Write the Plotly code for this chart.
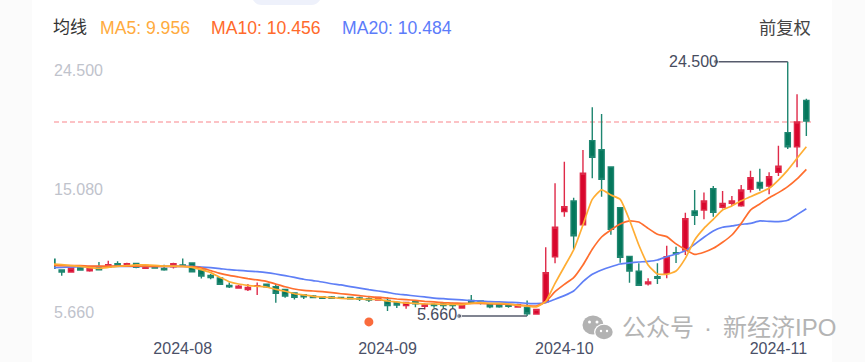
import plotly.graph_objects as go

W, H = 865, 362
L, R, T, B = 54, 811, 40, 337

opens = [9.86,9.07,8.92,9.26,9.00,9.26,9.26,9.54,9.41,9.56,9.19,9.36,9.19,9.31,9.44,9.59,9.07,8.67,8.47,7.93,
 7.73,7.61,7.86,8.01,7.83,7.63,7.36,7.24,7.14,7.09,7.07,7.04,7.04,6.99,6.94,6.85,6.82,6.67,6.43,6.75,
 6.38,6.52,6.55,6.55,6.25,6.82,6.77,6.50,6.50,6.50,6.33,6.30,5.81,6.72,10.05,13.39,14.18,12.42,18.65,17.98,
 16.70,13.68,10.08,8.97,8.05,8.57,8.82,10.34,10.55,13.44,13.51,15.09,13.71,14.00,13.83,15.04,15.56,15.29,16.30,19.24,
 18.20,21.63]
highs = [9.86,9.12,9.22,9.41,9.22,9.66,9.76,9.71,9.61,9.61,9.46,9.39,9.46,9.61,9.91,9.63,9.12,8.77,8.52,8.15,
 7.96,8.03,8.15,8.03,8.03,7.68,7.41,7.29,7.22,7.14,7.14,7.09,7.09,7.09,7.04,7.09,7.04,6.72,6.72,6.80,
 6.60,6.60,6.62,6.65,6.52,7.22,6.82,6.60,6.60,6.57,6.57,6.80,6.15,10.75,15.49,17.09,14.42,17.96,21.12,20.62,
 16.70,13.68,10.08,9.56,8.45,9.56,10.87,10.79,13.31,14.99,14.80,15.29,14.92,14.55,15.36,16.42,16.57,16.30,18.28,24.50,
 22.08,21.76]
lows = [9.19,8.65,8.89,9.04,8.94,9.04,9.22,9.34,9.36,9.19,9.17,9.17,9.02,9.17,9.31,8.89,8.43,8.38,7.98,7.73,
 7.68,7.51,7.22,7.76,6.65,7.02,6.89,6.92,6.97,6.94,6.92,6.92,6.89,6.77,6.70,6.82,6.03,6.25,6.20,6.30,
 6.15,6.28,6.23,6.25,6.23,6.60,6.52,6.23,6.28,6.28,6.28,5.66,5.78,6.60,9.56,13.02,10.60,12.42,15.86,14.50,
 11.68,9.61,8.13,7.88,7.91,8.03,8.45,9.59,10.18,12.40,12.82,13.02,13.63,13.81,13.76,14.80,14.94,14.67,16.03,18.03,
 16.67,18.99]
closes = [9.19,8.92,9.22,9.07,9.19,9.09,9.46,9.39,9.54,9.26,9.41,9.22,9.09,9.54,9.34,8.94,8.62,8.50,8.01,7.83,
 7.86,7.78,7.91,7.83,7.34,7.14,7.04,7.09,7.02,6.97,6.97,6.97,6.94,6.89,6.85,7.04,6.43,6.47,6.67,6.57,
 6.52,6.43,6.43,6.43,6.47,6.65,6.60,6.35,6.35,6.38,6.50,5.83,6.15,8.87,12.23,13.76,11.61,16.23,17.41,15.78,
 12.08,10.01,8.99,7.93,8.18,8.45,10.05,10.26,12.87,13.12,14.18,13.34,14.00,14.18,14.99,15.91,15.14,15.98,16.75,18.20,
 20.03,20.10]

ma5 = [9.51,9.46,9.39,9.34,9.24,9.19,9.26,9.34,9.39,9.44,9.44,9.41,9.36,9.36,9.34,9.26,9.09,8.87,8.52,8.20,
 8.03,7.93,7.86,7.81,7.63,7.49,7.31,7.22,7.12,7.07,7.02,6.97,6.94,6.92,6.89,6.89,6.77,6.70,6.62,6.60,
 6.55,6.55,6.52,6.52,6.50,6.60,6.65,6.60,6.60,6.55,6.45,6.40,6.33,6.75,8.08,9.31,10.55,12.40,14.30,15.00,
 14.62,14.30,12.77,10.92,9.44,8.77,8.75,8.99,9.93,11.29,12.15,12.82,13.51,13.81,14.20,14.50,14.80,15.12,15.73,16.47,
 17.34,18.20]
ma10 = [9.41,9.39,9.39,9.39,9.36,9.36,9.36,9.36,9.36,9.36,9.34,9.34,9.34,9.34,9.34,9.31,9.22,9.02,8.82,8.67,
 8.55,8.43,8.33,8.23,8.03,7.83,7.66,7.56,7.51,7.46,7.39,7.31,7.24,7.17,7.09,7.04,6.99,6.92,6.87,6.82,
 6.75,6.70,6.65,6.62,6.60,6.60,6.60,6.57,6.55,6.52,6.47,6.43,6.40,6.72,7.46,8.00,8.50,9.44,10.60,11.51,
 12.03,12.47,12.70,12.62,12.15,11.71,11.54,11.00,10.58,10.23,10.38,10.67,11.12,11.66,12.52,13.51,13.96,14.42,14.80,15.24,
 15.81,16.52]
ma20 = [9.24,9.26,9.29,9.31,9.31,9.31,9.31,9.34,9.34,9.34,9.34,9.34,9.34,9.34,9.34,9.34,9.29,9.24,9.17,9.09,
 9.04,8.99,8.94,8.87,8.77,8.65,8.52,8.38,8.28,8.18,8.05,7.96,7.83,7.73,7.61,7.51,7.41,7.29,7.22,7.14,
 7.07,6.99,6.94,6.89,6.85,6.80,6.77,6.72,6.70,6.67,6.65,6.60,6.57,6.65,6.90,7.17,7.51,8.20,8.75,9.07,
 9.31,9.51,9.59,9.66,9.71,9.81,10.05,10.25,10.50,10.97,11.49,11.96,12.23,12.33,12.45,12.52,12.70,12.67,12.65,12.75,
 13.17,13.61]

month_labels = ["2024-08", "2024-09", "2024-10", "2024-11"]
month_index = [14, 36, 55, 78]
price_labels = ["24.500", "15.080", "5.660"]
price_values = [24.5, 15.08, 5.66]
last_price = 20.03
high_value, high_index = 24.5, 79
low_value, low_index = 5.66, 51
note_index, note_value = 34, 5.22

RED, GREEN = "#D8062C", "#04775B"
FONT = "Liberation Sans, Arial, Noto Sans CJK SC"
idx = list(range(len(closes)))

# pixel helpers for page furniture only
fx = lambda x: (x - L) / (R - L)
fy = lambda y: (B - y) / (B - T)

fig = go.Figure()
fig.add_trace(go.Candlestick(
    x=idx, open=opens, high=highs, low=lows, close=closes,
    increasing=dict(line=dict(color="#DF2A49", width=1.4), fillcolor=RED),
    decreasing=dict(line=dict(color="#1E8670", width=1.4), fillcolor=GREEN),
    whiskerwidth=0, hoverinfo="skip", showlegend=False))
for vals, col in ((ma20, "#5F7FF6"), (ma10, "#FF6E2E"), (ma5, "#FFAD33")):
    fig.add_trace(go.Scatter(x=idx, y=vals, mode="lines", hoverinfo="skip", showlegend=False,
                             line=dict(color=col, width=1.7, shape="spline", smoothing=0.5)))

POINTER = "#565B6C"
fig.add_trace(go.Scatter(x=[high_index - 7.7, high_index], y=[high_value, high_value], mode="lines+markers",
                         line=dict(color=POINTER, width=1.5), hoverinfo="skip", showlegend=False,
                         marker=dict(color=POINTER, size=[5, 0])))
fig.add_trace(go.Scatter(x=[low_index - 7.3, low_index], y=[low_value, low_value], mode="lines+markers",
                         line=dict(color=POINTER, width=1.5), hoverinfo="skip", showlegend=False,
                         marker=dict(color=POINTER, size=[5, 0])))
fig.add_trace(go.Scatter(x=[note_index], y=[note_value], mode="markers", hoverinfo="skip", showlegend=False,
                         marker=dict(color="#FA6B3C", size=9)))

annos = []
def text(x, y, s, size, color, anchor="left"):
    annos.append(dict(xref="paper", yref="paper", x=fx(x), y=fy(y), text=s, showarrow=False,
                      xanchor=anchor, yanchor="middle",
                      font=dict(family=FONT, size=size, color=color), borderpad=0, borderwidth=0))

text(53, 28, "均线", 17, "#333333")
text(100, 28, "MA5: 9.956", 17.6, "#FFAB3D")
text(211, 28, "MA10: 10.456", 17.6, "#FF6A2B")
text(342, 28, "MA20: 10.484", 17.6, "#5C7CFA")
text(811, 28, "前复权", 17.3, "#444444", "right")

for lab, yy in zip(price_labels, (70, 189, 312)):
    text(54, yy, lab, 16, "#BFC3CC")

text(718, 61, "24.500", 16, "#474C5E", "right")
text(457, 314, "5.660", 16, "#474C5E", "right")
text(622, 327, "公众号", 24, "#B4B4B4")
text(704, 327, "·", 24, "#B4B4B4")
text(723, 327, "新经济IPO", 24, "#B4B4B4")

shapes = [
    dict(type="rect", xref="paper", yref="paper", x0=fx(0), x1=fx(32), y0=fy(0), y1=fy(H),
         fillcolor="#FBFBFB", line_width=0, layer="below"),
    dict(type="rect", xref="paper", yref="paper", x0=fx(832), x1=fx(W), y0=fy(0), y1=fy(H),
         fillcolor="#FBFBFB", line_width=0, layer="below"),
    dict(type="path", xref="paper", yref="paper", layer="below", fillcolor="#EEF1FB", line_width=0,
         path=f"M {fx(253)} {fy(0)} Q {fx(256)} {fy(5)} {fx(262)} {fy(5)} L {fx(311)} {fy(5)} "
              f"Q {fx(317)} {fy(5)} {fx(320)} {fy(0)} Z"),
    dict(type="line", xref="paper", yref="y", x0=0, x1=1, y0=last_price, y1=last_price, layer="below",
         line=dict(color="#FBAEB3", width=1.5, dash="5px,3px")),
]
# WeChat watermark icon
def oval(cx, cy, rx, ry, col):
    shapes.append(dict(type="circle", xref="paper", yref="paper", x0=fx(cx - rx), x1=fx(cx + rx),
                       y0=fy(cy - ry), y1=fy(cy + ry), fillcolor=col, line_width=0))
oval(593, 325, 10.5, 9.5, "#B2B2B2")
oval(604, 332, 10, 8.3, "#FFFFFF")
oval(604, 332, 8.7, 7.2, "#B2B2B2")
oval(589.5, 322, 1.5, 1.5, "#FFFFFF")
oval(597, 322, 1.5, 1.5, "#FFFFFF")
oval(601, 331, 1.2, 1.2, "#FFFFFF")
oval(607, 331, 1.2, 1.2, "#FFFFFF")

fig.update_layout(
    width=W, height=H, autosize=False,
    margin=dict(l=L, r=W - R, t=T, b=H - B, pad=0),
    paper_bgcolor="white", plot_bgcolor="rgba(0,0,0,0)",
    boxgap=0.2, annotations=annos, shapes=shapes,
    font=dict(family=FONT),
    xaxis=dict(range=[0.17, 81.5], rangeslider=dict(visible=False), showgrid=False, zeroline=False,
               showline=False, ticks="", tickmode="array", tickvals=month_index, ticktext=month_labels,
               automargin=False, tickfont=dict(family=FONT, size=16, color="#4A5068")),
    yaxis=dict(range=[5.66 - 21 / 13.5, 5.66 + 276 / 13.5], showgrid=False, zeroline=False, showline=False,
               automargin=False, showticklabels=False, ticks=""),
)
fig.write_html("out.html", config={"displayModeBar": False},
               post_script="document.body.style.margin='0';document.documentElement.style.overflow='hidden';")
